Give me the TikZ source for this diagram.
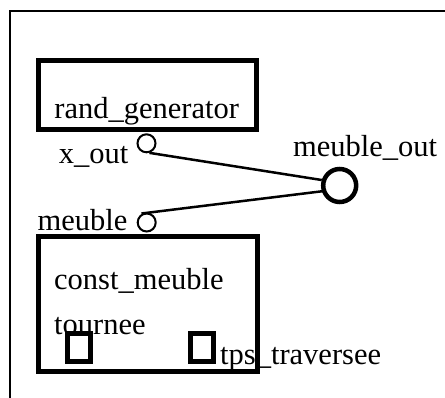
\documentclass[tikz,border=0pt]{standalone}
\usepackage{fontspec}
\setmainfont{Liberation Serif}
\begin{document}
\begin{tikzpicture}[x=1pt,y=-1pt,
  lbl/.style={inner sep=0pt, font=\fontsize{30.5}{36}\selectfont},
  blockbox/.style={draw, line width=5pt, inner sep=0pt},
  portc/.style={draw, circle, line width=2pt, minimum size=18pt, inner sep=0pt},
  portbig/.style={draw, circle, line width=4.5pt, minimum size=33pt, inner sep=0pt},
  portsq/.style={draw, rectangle, line width=5pt, minimum width=23pt, minimum height=28pt, inner sep=0pt},
  wire/.style={line width=2.5pt}]
\useasboundingbox (0,0) rectangle (445,398);
% outer frame
\coordinate (fbl) at (9.5,399);
\coordinate (ftl) at (9.5,11);
\coordinate (ftr) at (446,11);
\draw[line width=2pt] (fbl) -- (ftl) -- (ftr);
% rand_generator block
\node[blockbox, minimum width=217.5pt, minimum height=68.5pt] (rg) at (147.25,95.25) {};
\node[lbl, anchor=base] (rgl) at (146.7,118.3) {rand\_generator};
% ports
\node[portc] (xo) at (146.5,143.3) {};
\node[lbl, anchor=base east] (xol) at (128.5,164) {x\_out};
\node[portc] (mp) at (146.7,222.5) {};
\node[lbl, anchor=base east] (mpl) at (127.5,231) {meuble};
\node[portbig] (mo) at (339.7,185.5) {};
\node[lbl, anchor=base west] (mol) at (293,157) {meuble\_out};
% const_meuble block
\node[blockbox, minimum width=218.5pt, minimum height=135pt] (cm) at (147.75,304.5) {};
\node[lbl, anchor=base west] (cml) at (54,289.3) {const\_meuble};
\node[lbl, anchor=base west] (tl) at (54,335) {tournee};
\node[portsq] (tsq) at (79.2,347.7) {};
\node[portsq] (psq) at (202.2,347.7) {};
\node[lbl, anchor=base west] (pl) at (220,364.3) {tps\_traversee};
% connectors
\draw[wire] (xo.-73) -- (mo.163);
\draw[wire, shorten <=-7pt, shorten >=-4pt] (mp.80) -- (mo.198);
\end{tikzpicture}
\end{document}
